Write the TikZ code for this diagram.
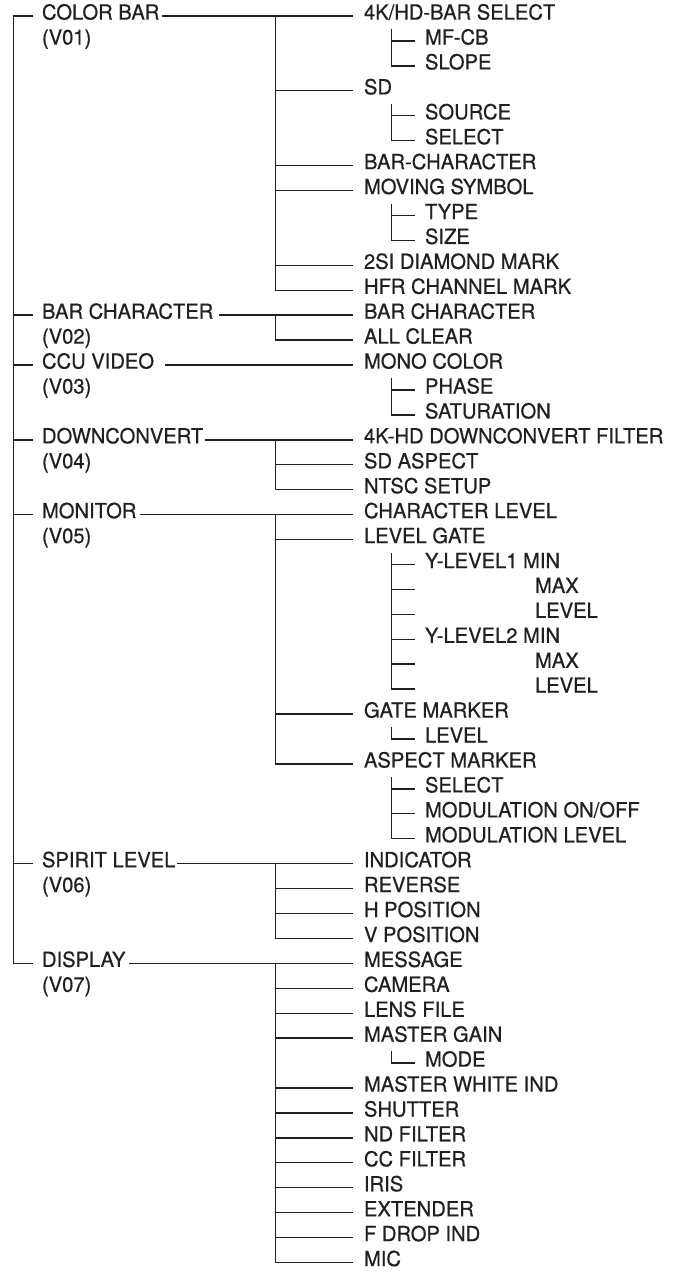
\documentclass[tikz,border=0pt]{standalone}
\usepackage{fontspec}
\setmainfont{TeX Gyre Heros}[FakeStretch=0.97, FakeBold=0.6]
\definecolor{ink}{HTML}{231F20}

\begin{document}
\begin{tikzpicture}[
    x=1pt, y=-24.93pt,
    every node/.style={
        inner sep=0pt, anchor=west,
        text height=0.716em, text depth=0pt,
        font=\fontsize{20.8}{25}\selectfont, text=ink
    },
    grp/.style={outer sep=0pt},                 % menu group (V0x)
    itm/.style={outer xsep=11pt, outer ysep=0pt}, % first level item
    sitm/.style={outer xsep=10pt, outer ysep=0pt},% second level item
    line/.style={draw=ink, line width=1.4pt}
]
\useasboundingbox (0pt,16pt) rectangle (675pt,-1257pt);

% bar positions
\coordinate (barA) at (275.7,0);
\coordinate (barB) at (391.7,0);

% --- groups ---
\node[grp] (cb)   at (42,0)  {COLOR BAR};
\node[grp] (cbv)  at (42,1)  {(V01)};
\node[grp] (bc)   at (42,12) {BAR CHARACTER};
\node[grp] (bcv)  at (42,13) {(V02)};
\node[grp] (ccu)  at (42,14) {CCU VIDEO};
\node[grp] (ccuv) at (42,15) {(V03)};
\node[grp] (dc)   at (42,17) {DOWNCONVERT};
\node[grp] (dcv)  at (42,18) {(V04)};
\node[grp] (mon)  at (42,20) {MONITOR};
\node[grp] (monv) at (42,21) {(V05)};
\node[grp] (spl)  at (42,34) {SPIRIT LEVEL};
\node[grp] (splv) at (42,35) {(V06)};
\node[grp] (dsp)  at (42,38) {DISPLAY};
\node[grp] (dspv) at (42,39) {(V07)};

% --- COLOR BAR ---
\node[itm]  (cbsel) at (353,0)  {4K/HD-BAR SELECT};
\node[sitm] (mfcb)  at (415,1)  {MF-CB};
\node[sitm] (slope) at (415,2)  {SLOPE};
\node[itm]  (sd)    at (353,3)  {SD};
\node[sitm] (sdsrc) at (415,4)  {SOURCE};
\node[sitm] (sdsel) at (415,5)  {SELECT};
\node[itm]  (barch) at (353,6)  {BAR-CHARACTER};
\node[itm]  (mov)   at (353,7)  {MOVING SYMBOL};
\node[sitm] (movt)  at (415,8)  {TYPE};
\node[sitm] (movs)  at (415,9)  {SIZE};
\node[itm]  (dia)   at (353,10) {2SI DIAMOND MARK};
\node[itm]  (hfr)   at (353,11) {HFR CHANNEL MARK};

% --- BAR CHARACTER ---
\node[itm]  (bcc)   at (353,12) {BAR CHARACTER};
\node[itm]  (bcclr) at (353,13) {ALL CLEAR};

% --- CCU VIDEO ---
\node[itm]  (mono)  at (353,14) {MONO COLOR};
\node[sitm] (phase) at (415,15) {PHASE};
\node[sitm] (sat)   at (415,16) {SATURATION};

% --- DOWNCONVERT ---
\node[itm]  (dcf)   at (353,17) {4K-HD DOWNCONVERT FILTER};
\node[itm]  (sdasp) at (353,18) {SD ASPECT};
\node[itm]  (ntsc)  at (353,19) {NTSC SETUP};

% --- MONITOR ---
\node[itm]  (chl)   at (353,20) {CHARACTER LEVEL};
\node[itm]  (lg)    at (353,21) {LEVEL GATE};
\node[sitm] (yamin) at (415,22) {Y-LEVEL1 MIN};
\node[grp]  (yamax) at (535,23) {MAX};
\node[grp]  (yalev) at (535,24) {LEVEL};
\node[sitm] (ybmin) at (415,25) {Y-LEVEL2 MIN};
\node[grp]  (ybmax) at (535,26) {MAX};
\node[grp]  (yblev) at (535,27) {LEVEL};
\coordinate (yamaxs) at (415,23);
\coordinate (yalevs) at (415,24);
\coordinate (ybmaxs) at (415,26);
\coordinate (yblevs) at (415,27);
\node[itm]  (gm)    at (353,28) {GATE MARKER};
\node[sitm] (gmlev) at (415,29) {LEVEL};
\node[itm]  (am)    at (353,30) {ASPECT MARKER};
\node[sitm] (amsel) at (415,31) {SELECT};
\node[sitm] (ammod) at (415,32) {MODULATION ON/OFF};
\node[sitm] (amlev) at (415,33) {MODULATION LEVEL};

% --- SPIRIT LEVEL ---
\node[itm]  (ind)   at (353,34) {INDICATOR};
\node[itm]  (rev)   at (353,35) {REVERSE};
\node[itm]  (hpos)  at (353,36) {H POSITION};
\node[itm]  (vpos)  at (353,37) {V POSITION};

% --- DISPLAY ---
\node[itm]  (msg)   at (353,38) {MESSAGE};
\node[itm]  (cam)   at (353,39) {CAMERA};
\node[itm]  (lens)  at (353,40) {LENS FILE};
\node[itm]  (mgain) at (353,41) {MASTER GAIN};
\node[sitm] (mode)  at (415,42) {MODE};
\node[itm]  (mwi)   at (353,43) {MASTER WHITE IND};
\node[itm]  (shut)  at (353,44) {SHUTTER};
\node[itm]  (nd)    at (353,45) {ND FILTER};
\node[itm]  (cc)    at (353,46) {CC FILTER};
\node[itm]  (iris)  at (353,47) {IRIS};
\node[itm]  (ext)   at (353,48) {EXTENDER};
\node[itm]  (fdrop) at (353,49) {F DROP IND};
\node[itm]  (mic)   at (353,50) {MIC};

% --- trunk ---
\draw[line] ([xshift=-8.7pt]cb.west) -| ([xshift=-28.7pt]dsp.west) -- ([xshift=-8.7pt]dsp.west);
\foreach \g in {bc,ccu,dc,mon,spl}
    \draw[line] ([xshift=-28.7pt]\g.west) -- ([xshift=-8.7pt]\g.west);

% --- group to first item ---
\draw[line] ([xshift=3pt]cb.east)  -- (cbsel.west);
\draw[line] ([xshift=6pt]bc.east)  -- (bcc.west);
\draw[line] ([xshift=11pt]ccu.east) -- (mono.west);
\draw[line] ([xshift=2pt]dc.east)  -- (dcf.west);
\draw[line] ([xshift=4pt]mon.east) -- (chl.west);
\draw[line] ([xshift=2pt]spl.east) -- (ind.west);
\draw[line] ([xshift=3pt]dsp.east) -- (msg.west);

% --- first level bars ---
\draw[line] (cbsel.west -| barA) |- (hfr.west);
\foreach \n in {sd,barch,mov,dia}
    \draw[line] (\n.west -| barA) -- (\n.west);
\draw[line] (bcc.west -| barA) |- (bcclr.west);
\draw[line] (dcf.west -| barA) |- (ntsc.west);
\draw[line] (sdasp.west -| barA) -- (sdasp.west);
\draw[line] (chl.west -| barA) |- (am.west);
\foreach \n in {lg,gm}
    \draw[line] (\n.west -| barA) -- (\n.west);
\draw[line] (ind.west -| barA) |- (vpos.west);
\foreach \n in {rev,hpos}
    \draw[line] (\n.west -| barA) -- (\n.west);
\draw[line] (msg.west -| barA) |- (mic.west);
\foreach \n in {cam,lens,mgain,mwi,shut,nd,cc,iris,ext,fdrop}
    \draw[line] (\n.west -| barA) -- (\n.west);

% --- second level bars ---
\draw[line] (cbsel.west -| barB) ++(0pt,-13pt) |- (slope.west);
\draw[line] (mfcb.west -| barB) -- (mfcb.west);
\draw[line] (sd.west -| barB) ++(0pt,-13pt) |- (sdsel.west);
\draw[line] (sdsrc.west -| barB) -- (sdsrc.west);
\draw[line] (mov.west -| barB) ++(0pt,-13pt) |- (movs.west);
\draw[line] (movt.west -| barB) -- (movt.west);
\draw[line] (mono.west -| barB) ++(0pt,-13pt) |- (sat.west);
\draw[line] (phase.west -| barB) -- (phase.west);
\draw[line] (lg.west -| barB) ++(0pt,-13pt) |- (yblevs);
\foreach \n in {yamin,yamaxs,yalevs,ybmin,ybmaxs}
    \draw[line] (\n.west -| barB) -- (\n.west);
\draw[line] (gm.west -| barB) ++(0pt,-13pt) |- (gmlev.west);
\draw[line] (am.west -| barB) ++(0pt,-13pt) |- (amlev.west);
\foreach \n in {amsel,ammod}
    \draw[line] (\n.west -| barB) -- (\n.west);
\draw[line] (mgain.west -| barB) ++(0pt,-13pt) |- (mode.west);

\end{tikzpicture}
\end{document}
